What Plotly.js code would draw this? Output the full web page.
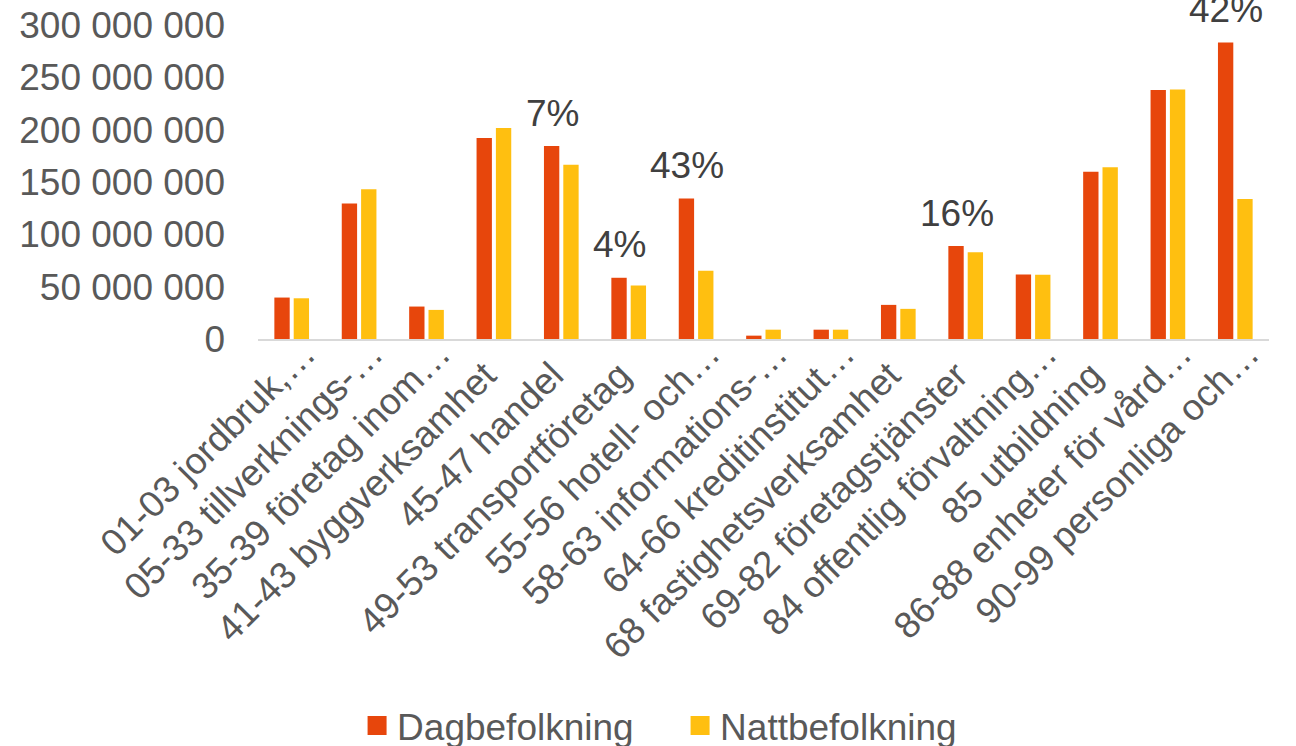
<!DOCTYPE html>
<html>
<head>
<meta charset="utf-8">
<script src="https://cdn.plot.ly/plotly-3.0.1.min.js"></script>
<style>
  html, body { margin: 0; padding: 0; background: #ffffff; }
  #chart { width: 1296px; height: 746px; }
</style>
</head>
<body>
<div id="chart"></div>
<script>
const categories = [
  "01-03 jordbruk,…",
  "05-33 tillverknings-…",
  "35-39 företag inom…",
  "41-43 byggverksamhet",
  "45-47 handel",
  "49-53 transportföretag",
  "55-56 hotell- och…",
  "58-63 informations-…",
  "64-66 kreditinstitut…",
  "68 fastighetsverksamhet",
  "69-82 företagstjänster",
  "84 offentlig förvaltning…",
  "85 utbildning",
  "86-88 enheter för vård…",
  "90-99 personliga och…"
];

const dagbefolkning = [
  39600000, 129400000, 31000000, 192000000, 184300000,
  58500000, 134200000, 3200000, 8900000, 32600000,
  88800000, 61600000, 159700000, 238000000, 283300000
];

const nattbefolkning = [
  38900000, 143100000, 27800000, 201600000, 166400000,
  51100000, 65200000, 8900000, 8900000, 28800000,
  83000000, 61300000, 164200000, 238300000, 133800000
];

const labelCategories = [
  "45-47 handel",
  "49-53 transportföretag",
  "55-56 hotell- och…",
  "69-82 företagstjänster",
  "90-99 personliga och…"
];
const labelTexts = ["7%", "4%", "43%", "16%", "42%"];

const seriesNames = ["Dagbefolkning", "Nattbefolkning"];
const seriesColors = ["#E7460C", "#FFBF10"];

const FONT = "Liberation Sans, Arial, sans-serif";

// Untruncated labels sit a little lower along their slant in the reference,
// so they get trailing no-break spaces (invisible).
const tickTexts = categories.map(c => c.endsWith("…") ? c : c + "\u00A0\u00A0\u00A0");

const traces = [
  {
    type: "bar", name: seriesNames[0], x: categories, y: dagbefolkning,
    marker: { color: seriesColors[0] }, hoverinfo: "skip"
  },
  {
    type: "bar", name: seriesNames[1], x: categories, y: nattbefolkning,
    marker: { color: seriesColors[1] }, hoverinfo: "skip"
  }
];

const annotations = labelCategories.map((c, i) => ({
  x: c,
  y: dagbefolkning[categories.indexOf(c)],
  xref: "x", yref: "y",
  text: labelTexts[i],
  showarrow: false,
  xanchor: "center", yanchor: "middle",
  xshift: -9, yshift: 33,
  font: { family: FONT, size: 37, color: "#404040" }
}));

const layout = {
  width: 1296, height: 746,
  margin: { l: 258, r: 27, t: 25, b: 407, autoexpand: false },
  paper_bgcolor: "#ffffff", plot_bgcolor: "#ffffff",
  separators: ", ",
  barmode: "group",
  bargap: 0.426,
  bargroupgap: 0.207,
  showlegend: true,
  font: { family: FONT, size: 37, color: "#595959" },
  xaxis: {
    type: "category",
    tickmode: "array",
    tickvals: categories,
    ticktext: tickTexts,
    tickangle: -45,
    ticklabelshift: 13,
    ticklabelstandoff: -24,
    showline: true, linecolor: "#D9D9D9", linewidth: 2,
    showgrid: false, zeroline: false, ticks: "",
    tickfont: { family: FONT, size: 37, color: "#595959" },
    automargin: false
  },
  yaxis: {
    range: [0, 300000000],
    dtick: 50000000,
    tickformat: ",d",
    showgrid: false, zeroline: false, showline: false, ticks: "",
    ticklabelstandoff: 32,
    tickfont: { family: FONT, size: 37, color: "#595959" },
    automargin: false
  },
  legend: {
    orientation: "h",
    x: 0.098, xanchor: "left",
    y: -1.232, yanchor: "middle",
    entrywidth: 278,
    font: { family: FONT, size: 37, color: "#595959" },
    bgcolor: "rgba(0,0,0,0)"
  },
  annotations: annotations
};

Plotly.newPlot("chart", traces, layout, { displayModeBar: false, staticPlot: true })
  .then(gd => {
    // Reference legend keys are larger squares (~19px) than Plotly's default 12px.
    gd.querySelectorAll(".legend .legendpoints path").forEach(p => {
      p.setAttribute("d", "M9.5,9.5H-9.5V-9.5H9.5Z");
    });
  });
</script>
</body>
</html>
